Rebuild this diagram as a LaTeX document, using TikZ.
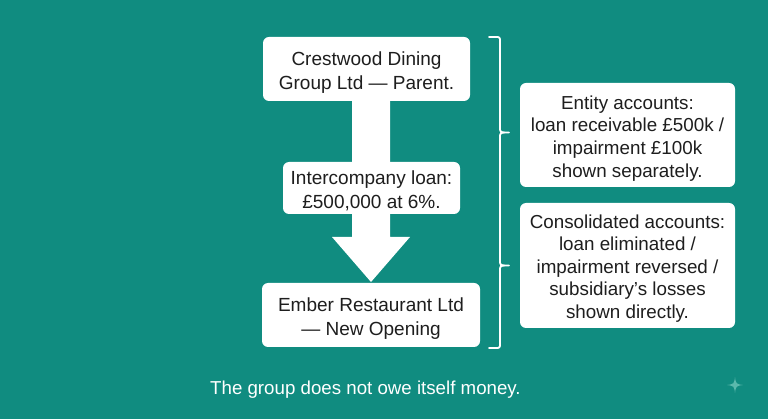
\documentclass[tikz,border=0pt]{standalone}
\usepackage{fontspec}
\setmainfont{Liberation Sans}
\definecolor{bgteal}{RGB}{16,140,128}
\definecolor{boxtext}{RGB}{30,30,30}
\definecolor{starcol}{RGB}{90,185,172}
\begin{document}
\begin{tikzpicture}[x=1pt,y=-1pt,
  card/.style={fill=white,rounded corners=6pt,inner sep=0pt},
  cardtext/.style={text=boxtext,align=center,inner sep=0pt,font=\fontsize{19}{24}\selectfont},
  bracestyle/.style={draw=white,line width=1.8pt,line cap=round,line join=round}]
\fill[bgteal] (0,0) rectangle (768,419);
\useasboundingbox (0,0) rectangle (768,419);
% arrow
\fill[white] (352,100) -- (390,100) -- (390,237) -- (410,237) -- (371,282) -- (332,237) -- (352,237) -- cycle;
% boxes
\node[card,minimum width=207pt,minimum height=64pt] (parent) at (366.5,69) {};
\node[cardtext] (parentT) at ([yshift=-3.5pt]parent.center) {Crestwood Dining\\Group Ltd — Parent.};
\node[card,minimum width=177pt,minimum height=52pt] (loan) at (371.5,188) {};
\node[cardtext] (loanT) at ([yshift=-3pt]loan.center) {Intercompany loan:\\£500,000 at 6\%.};
\node[card,minimum width=218pt,minimum height=64pt] (ember) at (371,315) {};
\node[cardtext] (emberT) at ([yshift=-3.5pt]ember.center) {Ember Restaurant Ltd\\— New Opening};
\node[card,minimum width=215pt,minimum height=104pt] (entity) at (627.5,135) {};
\node[cardtext,font=\fontsize{18.8}{22.8}\selectfont] (entityT) at ([yshift=-3.5pt]entity.center) {Entity accounts:\\loan receivable £500k /\\impairment £100k\\shown separately.};
\node[card,minimum width=215pt,minimum height=125pt] (consol) at (627.5,265.5) {};
\node[cardtext,font=\fontsize{18.8}{22.6}\selectfont] (consolT) at ([yshift=-3pt]consol.center) {Consolidated accounts:\\loan eliminated /\\impairment reversed /\\subsidiary’s losses\\shown directly.};
% brace
\coordinate (bt) at (489,37);
\coordinate (bb) at (489,348);
\draw[bracestyle] (bt) -- (495,37) .. controls (500,37) .. (500,42) -- (500,127)
  .. controls (500,132) .. (505,132.5) -- (509,132.5)
  (505,132.5) .. controls (500,133) .. (500,138) -- (500,260)
  .. controls (500,265) .. (505,265.5) -- (509,265.5)
  (505,265.5) .. controls (500,266) .. (500,271) -- (500,343)
  .. controls (500,348) .. (495,348) -- (bb);
% caption
\node[text=white,font=\fontsize{18.7}{24}\selectfont,anchor=west,inner sep=0pt] (caption) at (210,390) {The group does not owe itself money.};
% sparkle
\fill[starcol] (735,377) .. controls (736,384) .. (743,385) .. controls (736,386) .. (735,393) .. controls (734,386) .. (727,385) .. controls (734,384) .. cycle;
\end{tikzpicture}
\end{document}
